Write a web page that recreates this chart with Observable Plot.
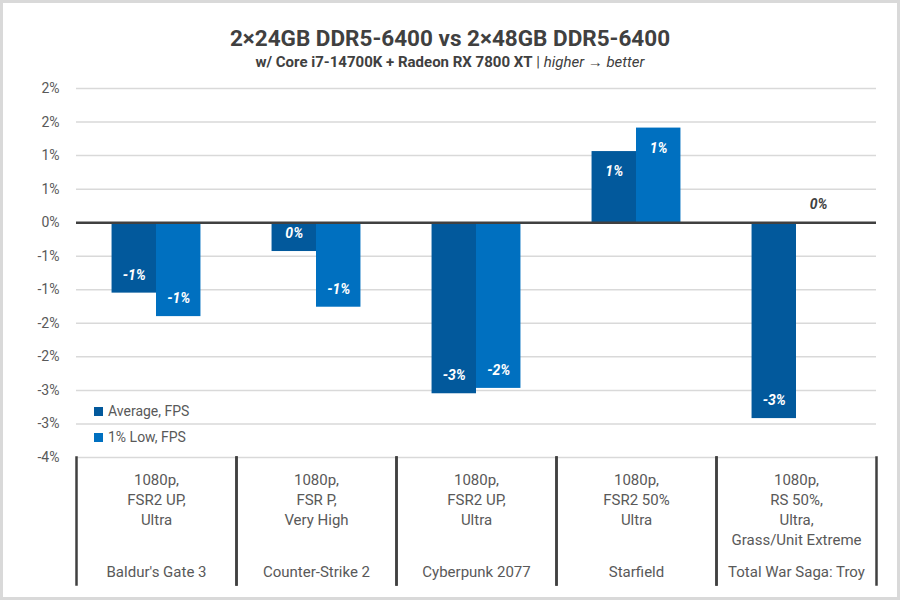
<!DOCTYPE html>
<html>
<head>
<meta charset="utf-8">
<script src="https://cdn.jsdelivr.net/npm/d3@7"></script>
<script src="https://cdn.jsdelivr.net/npm/@observablehq/plot@0.6"></script>
<style>
  html, body { margin: 0; padding: 0; background: #fff; }
  #chart {
    position: relative; width: 900px; height: 600px; box-sizing: border-box;
    border: 3px solid #d9d9d9; background: #fff; font-family: Roboto, sans-serif; overflow: hidden;
  }
  #title { margin-top: 22px; height: 26px; line-height: 26px; text-align: center;
    font-size: 22.5px; font-weight: bold; color: #404040; }
  #subtitle { margin-top: 2px; height: 18px; line-height: 18px; text-align: center;
    font-size: 15px; color: #404040; }
  #subtitle b { font-weight: bold; }
  #subtitle i { font-style: italic; }
  #plot { margin-top: 9px; }
  #legend { position: absolute; left: 91px; top: 395px; font-size: 14px; color: #595959; }
  #legend div { height: 26px; line-height: 26px; white-space: nowrap; }
  #legend span.sw { display: inline-block; width: 9px; height: 9px; margin-right: 5px; vertical-align: -0px; }
</style>
</head>
<body>
<div id="chart">
  <div id="title">2×24GB DDR5-6400 vs 2×48GB DDR5-6400</div>
  <div id="subtitle"><b>w/ Core i7-14700K + Radeon RX 7800 XT</b> | <i>higher → better</i></div>
  <div id="plot"></div>
  <div id="legend"></div>
</div>
<script>
const games = ["Baldur's Gate 3", "Counter-Strike 2", "Cyberpunk 2077", "Starfield", "Total War Saga: Troy"];
const settings = [
  "1080p,\nFSR2 UP,\nUltra",
  "1080p,\nFSR P,\nVery High",
  "1080p,\nFSR2 UP,\nUltra",
  "1080p,\nFSR2 50%\nUltra",
  "1080p,\nRS 50%,\nUltra,\nGrass/Unit Extreme"
];
const series = ["Average, FPS", "1% Low, FPS"];
const avgFps = [-1.05, -0.43, -2.55, 1.06, -2.92];
const lowFps = [-1.40, -1.26, -2.47, 1.41, 0];
const yTicks = [2, 1.5, 1, 0.5, 0, -0.5, -1, -1.5, -2, -2.5, -3, -3.5];
const yTickLabels = ["2%", "2%", "1%", "1%", "0%", "-1%", "-1%", "-2%", "-2%", "-3%", "-3%", "-4%"];
const colors = ["#02599c", "#0070c0"];

const data = games.flatMap((g, i) => [
  {game: g, series: series[0], value: avgFps[i]},
  {game: g, series: series[1], value: lowFps[i]}
]);
const settingsOf = new Map(games.map((g, i) => [g, settings[i]]));
const yLabelOf = new Map(yTicks.map((t, i) => [t, yTickLabels[i]]));
const fmt = v => String(Math.round(v) === 0 ? 0 : Math.round(v)) + "%";

const labelStyle = {fx: "game", x: "series", y: "value", text: d => fmt(d.value),
  fontWeight: "bold", fontStyle: "italic", fontSize: 14};

const chart = Plot.plot({
  width: 894, height: 517,
  marginTop: 8, marginBottom: 140, marginLeft: 73, marginRight: 21,
  style: {fontFamily: "Roboto, sans-serif", background: "#fff"},
  fx: {domain: games, padding: 0, label: null},
  x: {domain: series, paddingInner: 0, paddingOuter: 0.8, axis: null, round: false},
  y: {domain: [-3.5, 2], label: null},
  color: {domain: series, range: colors},
  marks: [
    Plot.gridY(yTicks, {stroke: "#d9d9d9", strokeOpacity: 1, strokeWidth: 1.5}),
    Plot.barY(data, {fx: "game", x: "series", y: "value", fill: "series"}),
    Plot.ruleY([0], {stroke: "#404040", strokeWidth: 2.5}),
    Plot.frame({anchor: "left", insetTop: 369, insetBottom: -127, stroke: "#404040", strokeWidth: 2.5}),
    Plot.frame({anchor: "right", insetTop: 369, insetBottom: -127, stroke: "#404040", strokeWidth: 2.5}),
    Plot.axisY(yTicks, {tickFormat: d => yLabelOf.get(d), tickSize: 0, tickPadding: 17,
      fontSize: 14, fill: "#595959", label: null}),
    Plot.axisFx({anchor: "bottom", tickSize: 0, tickPadding: 13, lineAnchor: "top", lineHeight: 1.33,
      fontSize: 15, fill: "#595959", label: null, tickFormat: d => settingsOf.get(d)}),
    Plot.axisFx({anchor: "bottom", tickSize: 0, tickPadding: 115, lineAnchor: "middle",
      fontSize: 15, fill: "#595959", label: null, tickFormat: d => d}),
    Plot.text(data.filter(d => d.value < 0), {...labelStyle, dy: -18, fill: "white"}),
    Plot.text(data.filter(d => d.value > 0), {...labelStyle, dy: 20, fill: "white"}),
    Plot.text(data.filter(d => d.value === 0), {...labelStyle, dy: -18, fill: "#404040"})
  ]
});
document.getElementById("plot").append(chart);

const legend = document.getElementById("legend");
series.forEach((s, i) => {
  const row = document.createElement("div");
  const sw = document.createElement("span");
  sw.className = "sw";
  sw.style.background = colors[i];
  row.append(sw, document.createTextNode(s));
  legend.append(row);
});
</script>
</body>
</html>
